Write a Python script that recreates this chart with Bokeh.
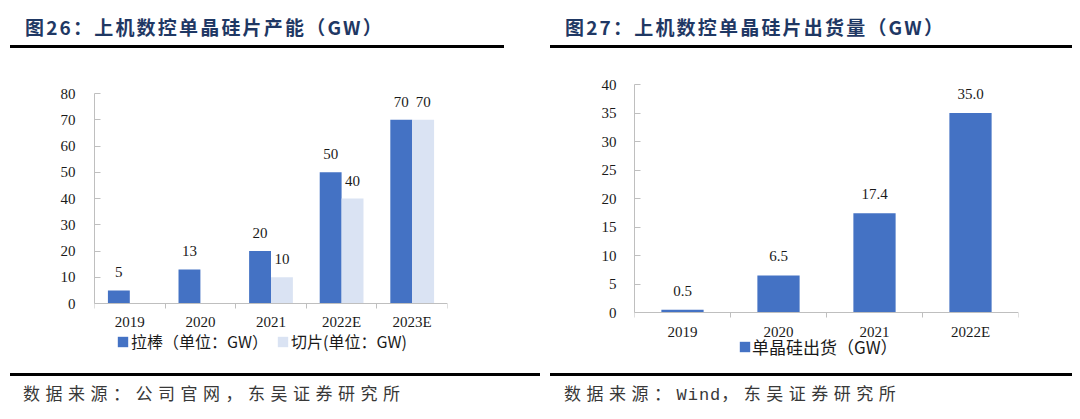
from bokeh.plotting import figure
from bokeh.models import (ColumnDataSource, Range1d, FixedTicker, LabelSet,
                          Legend, LegendItem, Div)
from bokeh.layouts import row, column
from bokeh.transform import dodge
from bokeh.embed import file_html
from bokeh.resources import INLINE

# ---------------- data ----------------
cap_title = "图26：上机数控单晶硅片产能（GW）"
cap_source = "数据来源：公司官网，东吴证券研究所"
cap_years = ["2019", "2020", "2021", "2022E", "2023E"]
cap_ingot = [5, 13, 20, 50, 70]          # 拉棒
cap_wafer = [0, 0, 10, 40, 70]           # 切片
cap_ticks = [0, 10, 20, 30, 40, 50, 60, 70, 80]
cap_names = ["拉棒（单位：GW）", "切片(单位：GW)"]

ship_title = "图27：上机数控单晶硅片出货量（GW）"
ship_source = ["数据来源：", "Wind", "，东吴证券研究所"]
ship_years = ["2019", "2020", "2021", "2022E"]
ship_values = [0.5, 6.5, 17.4, 35.0]
ship_ticks = [0, 5, 10, 15, 20, 25, 30, 35, 40]
ship_name = "单晶硅出货（GW）"

# ---------------- style ----------------
BLUE = "#4472C4"
LIGHT = "#DAE3F3"
AX = "#BFBFBF"
SERIF = "Liberation Serif"
CJK = "Noto Sans CJK SC"
TXT = "#1a1a1a"


def head(text, ml, w):
    html = (f'<div style="margin-left:{ml}px;width:{w}px;height:40px;box-sizing:border-box;'
            f'border-bottom:3px solid #000;padding-left:15px;line-height:38px;'
            f"font-family:'{CJK}';font-weight:bold;font-size:19px;letter-spacing:2.2px;"
            f'color:#1F3864;white-space:nowrap;">{text}</div>')
    return Div(text=html, width=532, height=40, margin=0)


def foot(text, ml, w, pl):
    html = (f'<div style="margin-left:{ml}px;width:{w}px;height:38px;box-sizing:border-box;'
            f'border-top:3px solid #000;padding-left:{pl}px;line-height:34px;'
            f"font-family:'{CJK}';font-size:17px;letter-spacing:5.5px;"
            f'color:#383838;white-space:nowrap;">{text}</div>')
    return Div(text=html, width=532, height=38, margin=0)


def style_axes(p, n, cats, yticks, ystand, xstand):
    p.xgrid.visible = False
    p.ygrid.visible = False
    p.outline_line_color = None
    xa = p.xaxis[0]
    xa.fixed_location = 0
    xa.ticker = FixedTicker(ticks=list(range(n)), minor_ticks=[i - 0.5 for i in range(n + 1)])
    xa.major_label_overrides = {i: c for i, c in enumerate(cats)}
    xa.major_tick_line_color = None
    xa.major_tick_in = 0
    xa.major_tick_out = 0
    xa.minor_tick_line_color = AX
    xa.minor_tick_in = 0
    xa.minor_tick_out = 5
    xa.axis_line_color = AX
    xa.major_label_standoff = xstand
    xa.major_label_text_font = SERIF
    xa.major_label_text_font_size = "15px"
    xa.major_label_text_color = TXT
    ya = p.yaxis[0]
    ya.bounds = (yticks[0], yticks[-1])
    ya.ticker = FixedTicker(ticks=yticks, minor_ticks=[])
    ya.major_tick_line_color = AX
    ya.major_tick_in = 6
    ya.major_tick_out = 0
    ya.minor_tick_line_color = None
    ya.axis_line_color = AX
    ya.major_label_standoff = ystand
    ya.major_label_text_font = SERIF
    ya.major_label_text_font_size = "15px"
    ya.major_label_text_color = TXT


# ---------------- left chart ----------------
# plot area: value axis 210 px tall, 65 px extra room below zero for labels and legend
n1 = len(cap_years)
y1_lo = -cap_ticks[-1] * 65 / 210
p1 = figure(width=532, height=325, x_range=Range1d(-0.5, n1 - 0.5),
            y_range=Range1d(y1_lo, cap_ticks[-1]),
            output_backend="svg", toolbar_location=None,
            min_border_left=86, min_border_right=93, min_border_top=45, min_border_bottom=5)
style_axes(p1, n1, cap_years, cap_ticks, 19, 5)

src1 = ColumnDataSource(dict(
    x=list(range(n1)), ingot=cap_ingot, wafer=cap_wafer,
    ingot_lbl=[str(v) for v in cap_ingot],
    wafer_lbl=[str(v) if v else "" for v in cap_wafer]))

r1 = p1.vbar(x=dodge("x", -0.155, range=p1.x_range), top="ingot", bottom=0, width=0.31,
             fill_color=BLUE, line_color=None, source=src1)
r2 = p1.vbar(x=dodge("x", 0.155, range=p1.x_range), top="wafer", bottom=0, width=0.31,
             fill_color=LIGHT, line_color=None, source=src1)

for col, lbl, dx in (("ingot", "ingot_lbl", -0.155), ("wafer", "wafer_lbl", 0.155)):
    p1.add_layout(LabelSet(x=dodge("x", dx, range=p1.x_range), y=col, text=lbl, source=src1,
                           y_offset=18, text_align="center", text_baseline="middle",
                           text_font=SERIF, text_font_size="15px", text_color=TXT))

leg1 = Legend(items=[LegendItem(label=cap_names[0], renderers=[r1]),
                     LegendItem(label=cap_names[1], renderers=[r2])],
              orientation="horizontal", location=(22, 15),
              label_text_font=CJK, label_text_font_size="16px", label_text_color=TXT,
              glyph_width=13, glyph_height=13, label_standoff=2, spacing=8,
              padding=0, margin=0, label_height=16,
              border_line_color=None, background_fill_alpha=0)
p1.add_layout(leg1)

# ---------------- right chart ----------------
n2 = len(ship_years)
y2_lo = -ship_ticks[-1] * 56 / 228
p2 = figure(width=532, height=325, x_range=Range1d(-0.5, n2 - 0.5),
            y_range=Range1d(y2_lo, ship_ticks[-1]),
            output_backend="svg", toolbar_location=None,
            min_border_left=94, min_border_right=54, min_border_top=36, min_border_bottom=5)
style_axes(p2, n2, ship_years, ship_ticks, 18, 6)

src2 = ColumnDataSource(dict(x=list(range(n2)), v=ship_values,
                             lbl=[f"{v:.1f}" for v in ship_values]))
r3 = p2.vbar(x="x", top="v", bottom=0, width=0.44, fill_color=BLUE, line_color=None, source=src2)
p2.add_layout(LabelSet(x="x", y="v", text="lbl", source=src2, y_offset=19,
                       text_align="center", text_baseline="middle",
                       text_font=SERIF, text_font_size="15px", text_color=TXT))

leg2 = Legend(items=[LegendItem(label=ship_name, renderers=[r3])],
              orientation="horizontal", location=(104, 9),
              label_text_font=CJK, label_text_font_size="17px", label_text_color=TXT,
              glyph_width=13, glyph_height=13, label_standoff=1, spacing=12,
              padding=0, margin=0, label_height=16,
              border_line_color=None, background_fill_alpha=0)
p2.add_layout(leg2)

# ---------------- layout ----------------
ship_src_html = (ship_source[0]
                 + f"<span style=\"font-family:'Liberation Mono';letter-spacing:1px;\">{ship_source[1]}</span>"
                 + ship_source[2])
left = column(head(cap_title, 2, 494), p1, foot(cap_source, 2, 530, 13), spacing=0)
right = column(head(ship_title, 10, 522), p2, foot(ship_src_html, 10, 522, 14), spacing=0)
page = row(left, right, spacing=0, margin=(8, 0, 0, 8))

open("out.html", "w").write(file_html(page, INLINE))
